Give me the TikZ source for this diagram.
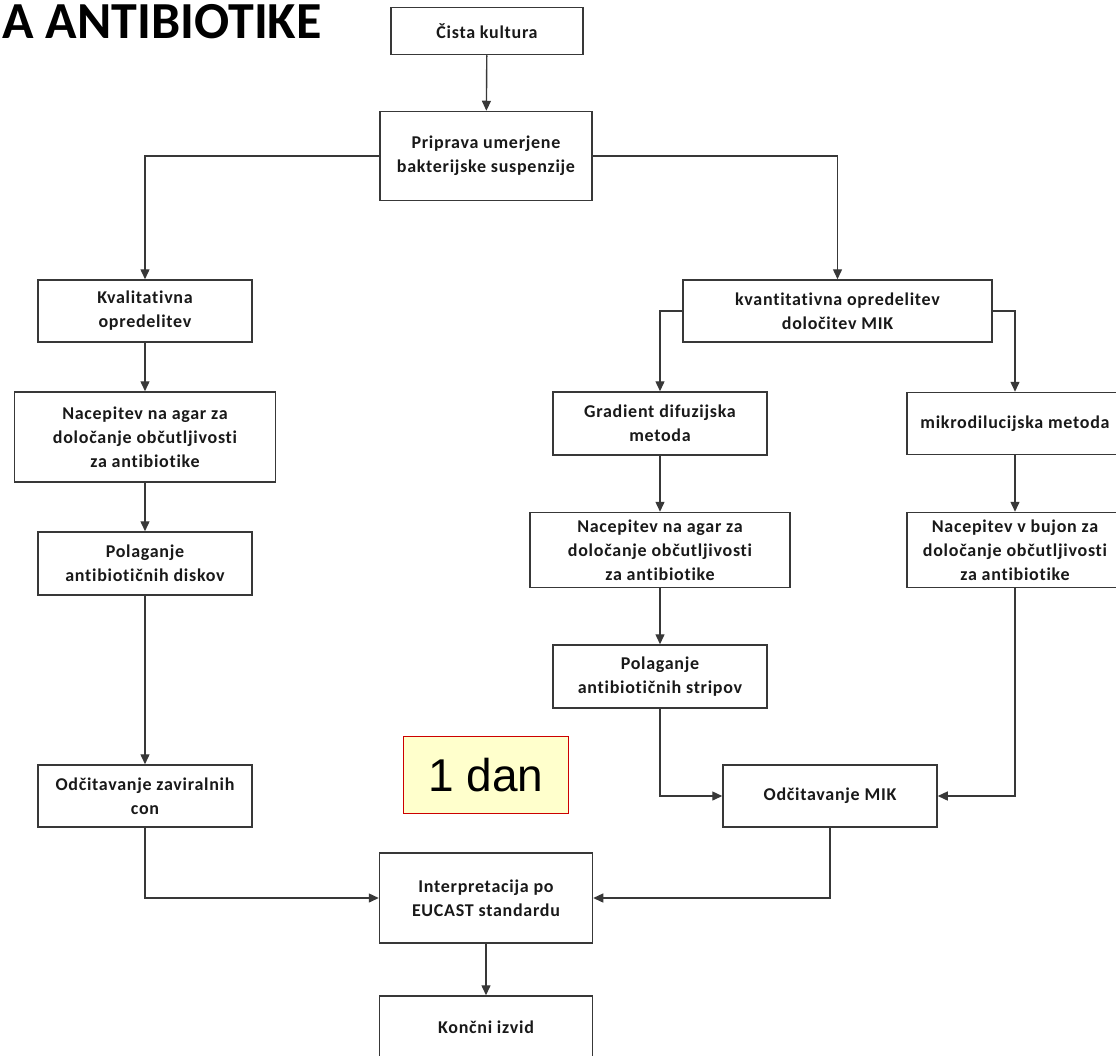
\documentclass[tikz,border=0pt]{standalone}
\usepackage{fontspec}
\setmainfont{Carlito}
\newfontfamily\boxfont[LetterSpace=4,Ligatures=NoCommon]{Carlito}
\newfontfamily\dayfont{Liberation Sans}
\usetikzlibrary{arrows.meta}
\definecolor{linegray}{HTML}{383838}
\definecolor{notefill}{HTML}{FFFFCC}
\definecolor{notered}{HTML}{CC0000}

\begin{document}
\begin{tikzpicture}[x=1pt, y=-1pt,
    stage/.style ={draw=linegray, line width=1.5pt, fill=white, align=center,
                   inner sep=0pt, font=\boxfont\bfseries\fontsize{18}{24}\selectfont,
                   text=black!90},
    flow/.style ={draw=linegray, line width=1.4pt, -{Triangle[length=10pt,width=9pt]}}]
   \useasboundingbox (0,0) rectangle (1116,1055);
   \clip (0,0) rectangle (1116,1055);
   \node[anchor=base west, font=\bfseries\fontsize{52}{58}\selectfont] (title) at (-1,38) {A ANTIBIOTIKE};

   \node[stage, minimum width=192pt, minimum height=47pt] (cista) at (487,31) {Čista kultura};
   \node[stage, minimum width=212pt, minimum height=89pt] (priprava) at (486,156) {Priprava umerjene\\bakterijske suspenzije};

   % kvalitativna veja
   \node[stage, minimum width=214pt, minimum height=62pt] (kval) at (145,311) {Kvalitativna\\opredelitev};
   \node[stage, minimum width=261pt, minimum height=90pt] (agarL) at (145,437) {Nacepitev na agar za\\določanje občutljivosti\\za antibiotike};
   \node[stage, minimum width=214pt, minimum height=63pt] (diski) at (145,563.5) {Polaganje\\antibiotičnih diskov};
   \node[stage, minimum width=214pt, minimum height=62pt] (cone) at (145,796) {Odčitavanje zaviralnih\\con};

   % kvantitativna veja
   \node[stage, minimum width=309pt, minimum height=62pt] (kvant) at (837.5,311) {kvantitativna opredelitev\\določitev MIK};
   \node[stage, minimum width=214pt, minimum height=63pt] (grad) at (660,423.5) {Gradient difuzijska\\metoda};
   \node[stage, minimum width=260pt, minimum height=75pt] (agarR) at (660,550) {Nacepitev na agar za\\določanje občutljivosti\\za antibiotike};
   \node[stage, minimum width=214pt, minimum height=63pt] (stripi) at (660,676.5) {Polaganje\\antibiotičnih stripov};
   \node[stage, minimum width=216pt, minimum height=62pt] (mikro) at (1015,423.5) {mikrodilucijska metoda};
   \node[stage, minimum width=216pt, minimum height=75pt] (bujon) at (1015,550) {Nacepitev v bujon za\\določanje občutljivosti\\za antibiotike};
   \node[stage, minimum width=214pt, minimum height=62pt] (mik) at (830,796) {Odčitavanje MIK};

   \node[stage, minimum width=213pt, minimum height=90pt] (interp) at (486,898) {Interpretacija po\\EUCAST standardu};
   \node[stage, minimum width=213pt, minimum height=62pt] (izvid) at (486,1027) {Končni izvid};

   \node[draw=notered, fill=notefill, line width=1.6pt, minimum width=165pt, minimum height=77pt,
         inner sep=0pt, font=\dayfont\fontsize{46}{50}\selectfont] (dan) at (486,775) {1 dan};

   \draw[flow] (cista) -- (priprava);
   \draw[flow] (priprava.west) -| (kval.north);
   \draw[flow] (priprava.east) -| (kvant.north);
   \draw[flow] (kval) -- (agarL);
   \draw[flow] (agarL) -- (diski);
   \draw[flow] (diski) -- (cone);
   \draw[flow] (cone.south) |- (interp.west);
   \draw[flow] (kvant.west) -| (grad.north);
   \draw[flow] (kvant.east) -| (mikro.north);
   \draw[flow] (grad) -- (agarR);
   \draw[flow] (agarR) -- (stripi);
   \draw[flow] (mikro) -- (bujon);
   \draw[flow] (stripi.south) |- (mik.west);
   \draw[flow] (bujon.south) |- (mik.east);
   \draw[flow] (mik.south) |- (interp.east);
   \draw[flow] (interp) -- (izvid);
 \end{tikzpicture}
\end{document}
